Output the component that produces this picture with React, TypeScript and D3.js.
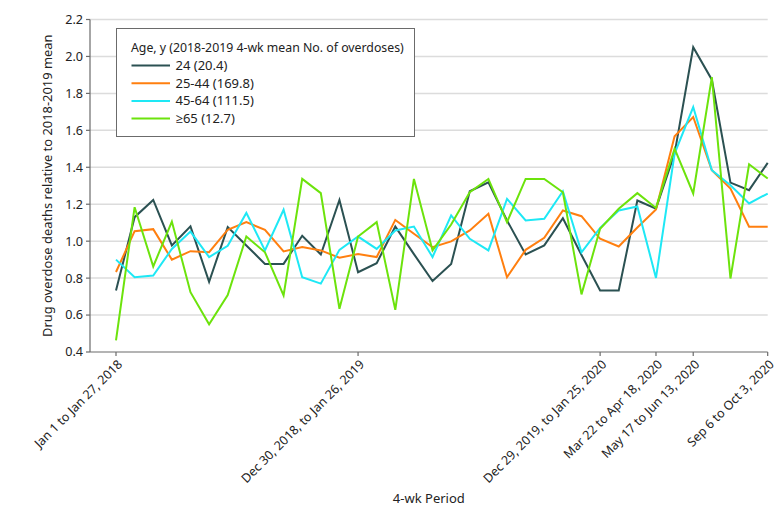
import React from "react";
import * as d3 from "d3";

const periodIndex = d3.range(36);
const tickIndices = [0, 13, 26, 29, 31, 35];
const tickLabels = [
  "Jan 1 to Jan 27, 2018",
  "Dec 30, 2018, to Jan 26, 2019",
  "Dec 29, 2019, to Jan 25, 2020",
  "Mar 22 to Apr 18, 2020",
  "May 17 to Jun 13, 2020",
  "Sep 6 to Oct 3, 2020",
];
const yTicks = [0.4, 0.6, 0.8, 1.0, 1.2, 1.4, 1.6, 1.8, 2.0, 2.2];

const seriesNames = ["24 (20.4)", "25-44 (169.8)", "45-64 (111.5)", "≥65 (12.7)"];
const seriesColors = ["#2b5152", "#ff7f0f", "#1ee8f5", "#6ce30c"];

const age24 = [
  0.733, 1.13, 1.223, 0.977, 1.08, 0.78, 1.076, 0.977, 0.877, 0.877,
  1.029, 0.928, 1.223, 0.832, 0.881, 1.079, 0.93, 0.784, 0.876, 1.27,
  1.319, 1.112, 0.928, 0.977, 1.124, 0.925, 0.733, 0.733, 1.22, 1.176,
  1.474, 2.05, 1.874, 1.317, 1.276, 1.424,
];
const age25_44 = [
  0.833, 1.054, 1.065, 0.9, 0.946, 0.94, 1.062, 1.103, 1.061, 0.944,
  0.968, 0.95, 0.91, 0.93, 0.914, 1.115, 1.04, 0.967, 0.999, 1.058,
  1.148, 0.805, 0.953, 1.018, 1.166, 1.135, 1.013, 0.971, 1.074, 1.172,
  1.568, 1.672, 1.384, 1.285, 1.078, 1.078,
];
const age45_64 = [
  0.9, 0.805, 0.814, 0.958, 1.052, 0.914, 0.975, 1.153, 0.95, 1.17,
  0.805, 0.77, 0.953, 1.025, 0.958, 1.058, 1.079, 0.914, 1.14, 1.013,
  0.95, 1.229, 1.112, 1.121, 1.27, 0.94, 1.072, 1.166, 1.188, 0.801,
  1.474, 1.726, 1.384, 1.303, 1.204, 1.258,
];
const age65 = [
  0.463, 1.184, 0.863, 1.106, 0.724, 0.55, 0.708, 1.025, 0.94, 0.706,
  1.337, 1.26, 0.634, 1.025, 1.103, 0.628, 1.337, 0.95, 1.09, 1.265,
  1.337, 1.103, 1.337, 1.337, 1.265, 0.712, 1.067, 1.175, 1.26, 1.18,
  1.501, 1.258, 1.888, 0.798, 1.416, 1.339,
];
const allSeries = [age24, age25_44, age45_64, age65];

const FONT = "'Noto Sans', 'Open Sans', sans-serif";

export default function App() {
  const W = 780;
  const H = 517;
  const x = d3.scaleLinear().domain([0, 35]).range([116, 767.7]);
  const y = d3.scaleLinear().domain([0.4, 2.2]).range([352, 19.5]);
  const axisLeft = 90;
  const line = d3
    .line<number>()
    .x((_, i) => x(periodIndex[i]))
    .y((d) => y(d));

  const legendX = 116.5;
  const legendY = 28.5;
  const legendW = 298;
  const legendH = 108;

  return (
    <svg
      width={W}
      height={H}
      style={{ position: "absolute", left: 0, top: 0, background: "#fff" }}
      fontFamily={FONT}
    >
      {yTicks.slice(1).map((t) => (
        <line
          key={"g" + t}
          x1={axisLeft}
          x2={767.7}
          y1={y(t)}
          y2={y(t)}
          stroke="#dcdcdc"
          strokeWidth={1.5}
        />
      ))}
      <line x1={axisLeft} x2={axisLeft} y1={y(2.2)} y2={y(0.4)} stroke="#6b6b6b" strokeWidth={1.2} />
      {yTicks.map((t) => (
        <g key={"y" + t}>
          <line x1={axisLeft - 4} x2={axisLeft} y1={y(t)} y2={y(t)} stroke="#6b6b6b" strokeWidth={1.2} />
          <text
            x={axisLeft - 7}
            y={y(t)}
            dy="0.35em"
            textAnchor="end"
            fontSize={12.6}
            fill="#222"
          >
            {t.toFixed(1)}
          </text>
        </g>
      ))}
      <line x1={axisLeft} x2={767.7} y1={y(0.4)} y2={y(0.4)} stroke="#6b6b6b" strokeWidth={1.2} />
      {tickIndices.map((ti, k) => (
        <g key={"x" + ti}>
          <line x1={x(ti)} x2={x(ti)} y1={y(0.4)} y2={y(0.4) + 4} stroke="#6b6b6b" strokeWidth={1.2} />
          <text
            transform={`translate(${x(ti) + 4},${y(0.4) + 10}) rotate(-45)`}
            textAnchor="end"
            dy="0.35em"
            fontSize={12.5}
            fill="#222"
          >
            {tickLabels[k]}
          </text>
        </g>
      ))}
      <text x={(axisLeft + 767.7) / 2} y={503} textAnchor="middle" fontSize={13} fill="#222">
        4-wk Period
      </text>
      <text
        transform={`translate(52,${(y(2.2) + y(0.4)) / 2}) rotate(-90)`}
        textAnchor="middle"
        fontSize={12.9}
        fill="#222"
      >
        Drug overdose deaths relative to 2018-2019 mean
      </text>
      {allSeries.map((s, i) => (
        <path
          key={"s" + i}
          d={line(s) || ""}
          fill="none"
          stroke={seriesColors[i]}
          strokeWidth={2}
          strokeLinejoin="miter"
        />
      ))}
      <rect
        x={legendX}
        y={legendY}
        width={legendW}
        height={legendH}
        fill="#fff"
        stroke="#6b6b6b"
        strokeWidth={1}
      />
      <text x={131} y={52} fontSize={12.3} fill="#222">
        Age, y (2018-2019 4-wk mean No. of overdoses)
      </text>
      {seriesNames.map((n, i) => (
        <g key={"l" + i}>
          <line
            x1={131.5}
            x2={170}
            y1={65.5 + i * 17.7}
            y2={65.5 + i * 17.7}
            stroke={seriesColors[i]}
            strokeWidth={2}
          />
          <text x={175.5} y={65.5 + i * 17.7} dy="0.35em" fontSize={13} fill="#222">
            {n}
          </text>
        </g>
      ))}
    </svg>
  );
}
